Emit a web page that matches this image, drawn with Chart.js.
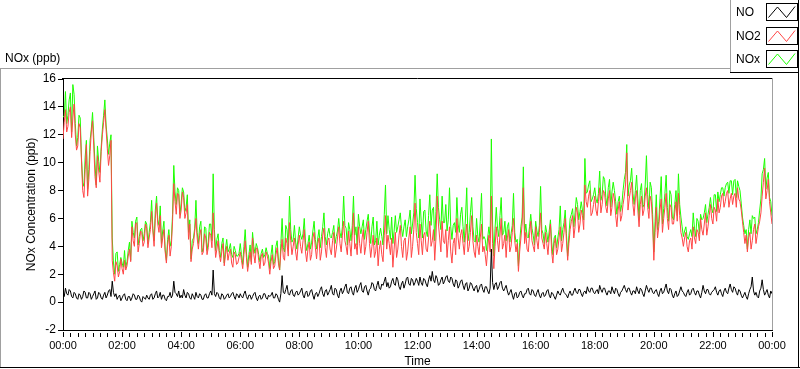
<!DOCTYPE html>
<html><head><meta charset="utf-8">
<script src="https://cdn.jsdelivr.net/npm/chart.js@4.4.1/dist/chart.umd.min.js"></script>
<style>html,body{margin:0;padding:0;background:#fff;overflow:hidden}canvas{display:block}</style>
</head><body>
<canvas id="c" width="800" height="369"></canvas>
<script>
// ---- data (2.5-minute samples, 00:00 .. 24:00), one row per hour ----
const SAMPLE_MIN = 2.5;
const seriesNames = ['NO', 'NO2', 'NOx'];
const plotLabel = 'NOx (ppb)';
const xTitle = 'Time';
const yTitle = 'NOx Concentration (ppb)';
const xTickLabels = ['00:00','02:00','04:00','06:00','08:00','10:00','12:00','14:00','16:00','18:00','20:00','22:00','00:00'];
const yTicks = [-2,0,2,4,6,8,10,12,14,16];

const NO = [
0.7,0.4,1.0,0.6,0.5,0.9,0.8,0.4,0.3,0.7,0.6,0.3,0.2,0.6,0.5,0.2,0.4,0.8,0.7,0.3,0.3,0.7,0.6,0.2,
0.4,0.6,0.8,0.2,0.3,0.7,0.6,0.3,0.2,0.5,0.7,0.3,0.5,0.8,0.9,0.4,1.5,0.7,0.4,0.6,0.2,0.4,0.5,0.1,
0.3,0.5,0.6,0.2,0.1,0.4,0.4,0.1,0.3,0.6,0.5,0.2,0.2,0.5,0.4,0.1,0.0,0.4,0.3,0.2,0.5,0.3,0.2,0.5,
0.6,0.2,0.3,0.6,0.8,0.3,0.4,0.7,0.2,0.5,0.5,0.2,0.1,0.4,0.4,0.7,0.3,0.5,1.5,0.7,0.6,0.4,0.8,0.3,
0.5,0.3,0.9,0.5,0.3,0.7,0.6,0.3,0.2,0.6,0.4,0.2,0.7,0.4,0.3,0.6,0.5,0.2,0.2,0.5,0.6,0.3,0.3,0.6,
0.8,0.5,2.3,0.6,0.4,0.7,0.6,0.3,0.2,0.6,0.5,0.2,0.3,0.5,0.6,0.3,0.4,0.6,0.7,0.4,0.2,0.6,0.5,0.3,
0.6,0.4,0.3,0.6,0.8,0.4,0.2,0.5,0.5,0.2,0.4,0.6,0.7,0.3,0.1,0.4,0.5,0.2,0.3,0.6,0.6,0.3,0.2,0.5,
0.4,0.5,0.7,0.3,0.3,0.6,0.5,0.2,0.0,0.6,1.9,0.7,0.6,0.9,1.2,0.6,0.5,0.8,0.9,0.5,0.4,0.7,0.8,0.5,
0.6,0.8,1.0,0.5,0.3,0.7,0.8,0.4,0.5,0.8,0.9,0.5,0.2,0.6,0.7,0.4,0.6,0.9,1.1,0.6,0.4,0.8,0.9,0.5,
0.7,0.9,1.2,0.6,0.5,1.0,0.9,0.5,0.3,0.8,1.0,0.6,0.8,1.1,1.3,0.7,0.6,1.0,1.1,0.7,0.5,1.0,1.2,0.7,
0.9,1.2,1.4,0.8,0.7,1.1,1.2,0.8,0.5,0.9,1.0,1.4,1.3,0.9,0.8,1.2,1.5,1.0,0.9,1.3,1.2,1.5,1.8,1.1,
1.4,1.0,1.1,1.5,1.7,1.3,1.2,1.8,1.6,1.1,0.9,1.3,1.5,1.0,1.3,1.7,1.8,1.3,1.2,1.7,1.6,1.2,1.4,1.7,
1.5,1.2,1.8,1.4,1.2,1.7,1.6,1.3,1.1,1.6,1.9,1.5,2.2,1.6,1.4,1.9,1.7,1.2,1.3,1.6,1.8,1.3,1.5,1.8,
1.9,1.5,1.4,1.8,1.7,1.3,1.1,1.6,1.5,1.0,1.2,1.5,1.6,1.2,0.9,1.3,1.4,0.8,1.0,1.4,1.3,1.0,0.8,1.1,
1.2,0.7,0.9,1.2,1.3,0.9,0.7,1.1,1.1,0.8,0.6,1.0,3.8,1.4,0.9,1.3,1.4,0.9,1.1,1.4,1.5,1.0,0.8,1.0,
1.2,0.8,0.5,0.7,0.9,0.5,0.2,0.6,0.7,0.3,0.4,0.7,0.8,0.5,0.3,0.6,0.6,0.9,1.0,0.6,0.5,0.9,0.8,0.5,
0.4,0.7,0.9,0.5,0.3,0.6,0.7,0.4,0.5,0.8,0.9,0.5,0.3,0.7,0.6,0.4,0.2,0.5,0.8,0.6,0.5,0.8,1.0,0.7,
0.6,0.5,0.3,0.6,0.8,0.5,0.5,0.8,1.0,0.7,0.6,0.9,0.9,0.6,0.4,0.7,0.8,0.6,1.1,0.8,0.7,1.0,1.0,0.7,
0.6,0.8,0.9,0.6,1.2,0.9,0.7,1.0,1.0,0.7,0.5,0.8,0.8,0.6,1.1,0.8,0.6,1.0,0.9,0.6,0.4,0.7,0.8,1.0,
1.2,0.9,0.7,1.0,1.0,0.7,0.5,0.8,0.8,0.6,1.1,0.8,0.6,1.0,0.9,0.6,0.4,0.8,1.2,0.9,0.7,1.0,1.0,0.7,
0.6,0.8,0.9,0.6,0.4,0.8,1.0,0.6,0.7,1.0,1.3,0.8,0.6,1.0,0.9,0.5,0.3,0.6,0.8,0.4,0.5,0.8,1.1,0.8,
0.7,0.5,0.4,0.7,0.9,0.5,0.6,0.9,1.0,0.7,0.5,0.8,0.8,0.5,0.3,0.7,1.2,0.8,0.6,0.9,0.9,0.6,0.5,0.7,
0.8,0.9,1.1,0.7,0.5,0.8,0.9,0.6,0.4,0.8,1.0,0.7,0.6,1.0,1.3,0.9,0.7,1.1,1.0,0.7,0.5,0.9,0.8,0.5,
0.3,0.5,0.7,0.4,0.2,0.6,0.9,1.1,1.8,0.8,0.5,0.7,0.4,0.3,0.8,1.0,1.6,0.9,0.5,0.7,0.9,0.5,0.3,0.8,0.6
];

const NO2 = [
11.7,12.9,13.8,12.2,12.6,13.6,14.0,11.8,13.2,14.2,12.0,10.9,11.2,12.8,12.5,10.2,8.0,7.5,9.5,11.3,7.6,8.8,10.8,12.2,
13.0,11.2,9.0,8.2,10.5,9.4,8.6,10.8,12.0,12.9,13.8,12.4,11.0,9.8,10.5,11.6,3.0,2.1,1.5,2.9,2.6,1.8,2.2,3.1,
2.4,2.0,3.0,2.3,2.6,3.3,3.8,2.9,5.4,4.4,4.0,5.6,5.7,3.6,4.2,5.1,5.0,4.0,4.3,5.6,5.3,3.9,4.6,5.2,
6.5,5.1,4.0,6.0,7.1,5.6,5.0,6.2,3.9,4.6,5.2,3.6,2.8,4.1,4.8,3.3,4.0,5.8,8.5,7.2,6.3,7.8,7.7,6.0,
6.6,7.9,7.5,6.0,6.4,7.0,4.5,5.6,2.9,3.8,4.2,5.1,6.0,4.6,3.8,4.8,5.2,3.4,3.6,4.9,4.6,3.4,3.9,5.0,
4.8,3.9,6.4,4.6,3.2,3.8,4.4,3.4,2.9,3.6,4.2,2.6,3.4,4.0,3.0,3.5,3.8,2.8,2.5,3.6,3.4,2.7,2.8,3.2,
3.6,3.0,2.4,3.4,4.4,3.2,2.2,2.9,3.6,2.7,4.6,3.4,2.8,3.9,3.8,3.0,2.4,3.3,3.5,2.6,2.8,3.6,3.3,2.8,
2.0,2.9,3.4,2.4,2.6,3.4,3.9,2.8,2.3,3.6,4.5,3.2,3.0,4.6,4.2,3.3,5.7,4.4,3.4,4.0,4.6,3.6,3.0,4.1,
4.8,4.0,3.5,4.4,5.2,3.6,2.9,3.8,4.3,3.0,3.4,4.6,5.0,3.9,3.1,4.2,4.6,3.0,3.6,4.8,5.3,3.9,3.2,4.4,
4.6,3.8,3.4,4.4,5.0,3.2,3.8,4.6,5.4,4.2,3.6,4.8,5.8,4.4,4.0,3.4,5.1,4.2,3.3,4.8,6.4,3.8,4.2,3.4,
5.4,4.2,3.5,4.6,5.2,3.4,4.0,5.0,5.8,4.2,3.2,4.0,4.8,3.2,3.6,4.6,2.6,3.8,4.4,3.4,2.9,4.8,6.2,3.8,
4.8,4.2,3.4,4.6,2.5,3.8,5.0,3.2,3.8,4.8,5.5,4.0,3.2,4.4,4.6,3.0,3.6,4.6,5.4,3.2,4.0,5.2,7.1,5.0,
4.2,3.4,5.6,4.4,3.4,4.8,5.0,3.8,3.6,4.6,5.8,4.0,4.4,5.2,3.0,4.6,7.6,5.6,4.6,3.6,5.8,4.4,4.2,5.2,
3.2,4.4,5.4,3.6,2.8,4.2,4.6,3.4,6.0,4.6,3.8,4.8,5.2,4.2,3.4,4.8,5.6,3.6,4.0,5.0,6.2,4.4,3.6,3.2,
4.8,4.0,3.4,4.6,5.6,3.6,4.0,3.4,2.6,3.8,4.8,3.6,7.6,4.2,2.4,4.0,5.4,4.4,3.6,4.8,6.0,3.8,4.2,4.8,
3.2,4.6,5.2,3.6,4.0,5.0,6.0,4.4,3.6,4.2,2.2,3.6,4.6,5.6,8.2,4.2,5.0,3.8,3.6,4.8,5.8,4.4,4.0,3.6,
5.4,4.4,3.8,5.0,6.4,4.6,4.2,3.8,5.0,4.2,3.4,4.6,5.6,3.6,2.8,4.2,4.6,3.4,3.8,4.6,5.4,3.6,4.2,5.0,
6.0,4.4,3.0,4.2,5.2,5.8,6.2,4.6,5.4,6.8,6.4,5.0,5.6,6.6,6.2,5.2,8.4,7.2,6.8,7.6,8.0,6.2,6.4,7.0,
7.6,6.6,6.2,7.2,8.2,6.4,7.0,8.0,7.8,6.8,6.4,7.4,8.0,6.2,6.8,7.8,7.4,6.2,5.4,6.6,7.2,5.8,6.2,7.0,
7.6,8.4,10.7,6.6,7.4,8.0,8.6,7.0,6.2,7.4,8.0,6.6,5.4,7.0,7.6,6.2,6.6,7.6,8.2,6.8,6.0,7.6,7.2,5.6,
3.0,5.0,6.8,4.6,5.4,6.6,7.4,5.0,6.0,6.8,7.8,6.0,5.2,7.0,6.8,5.6,5.6,6.4,7.2,5.8,7.8,6.2,5.0,4.6,
4.0,4.6,5.0,4.0,3.6,4.4,4.6,3.8,5.4,4.6,4.2,5.2,5.0,4.4,6.0,5.2,4.8,5.6,6.4,4.8,5.4,6.2,7.0,6.0,
5.6,6.8,6.6,5.8,7.4,6.4,6.8,7.6,7.8,6.8,7.2,7.8,8.0,6.8,7.4,7.8,7.0,7.6,7.8,6.8,8.2,7.4,7.2,6.6,
5.8,5.0,4.2,4.8,3.6,4.6,5.0,3.8,4.4,5.2,5.6,4.2,4.8,5.4,5.8,6.4,7.6,8.6,9.6,7.4,8.0,8.8,7.2,6.4,5.6
];

const NOx = [
13.3,13.3,15.1,12.8,13.4,14.5,15.0,12.2,15.6,14.9,12.8,11.2,11.8,13.4,13.2,10.4,8.6,8.3,10.4,11.6,8.1,9.5,11.6,12.4,
13.6,11.8,9.9,8.4,11.2,10.1,9.3,11.1,12.4,13.4,14.5,12.7,11.7,10.6,11.4,12.0,4.6,2.8,2.0,3.5,3.6,2.2,2.7,3.2,
2.8,2.5,3.7,2.5,2.9,3.7,4.3,3.0,5.8,5.0,4.6,5.8,6.1,4.1,4.7,5.2,5.3,4.4,4.9,5.8,5.6,4.2,5.0,5.7,
7.3,5.3,4.4,6.6,7.6,5.9,5.5,6.9,4.2,5.1,5.8,3.8,3.0,4.5,5.2,4.0,4.4,6.3,9.8,7.9,7.0,8.2,8.0,6.3,
7.1,8.2,7.9,6.5,6.8,7.7,5.0,5.9,3.1,4.4,4.6,5.3,7.3,5.0,4.2,5.4,5.8,3.6,3.9,5.4,5.3,3.7,4.3,5.6,
5.6,4.4,9.2,5.2,3.7,4.5,4.9,3.7,3.2,4.2,4.6,2.8,3.8,4.5,3.6,3.8,4.2,3.4,3.2,4.0,3.7,3.3,3.3,3.5,
4.2,3.4,2.7,4.0,5.2,3.6,2.5,3.4,4.1,2.9,5.0,4.0,3.5,4.2,3.9,3.4,2.9,3.5,3.8,3.2,3.4,3.9,3.5,3.3,
2.4,3.4,4.1,2.7,2.9,4.0,4.4,3.0,2.3,4.2,6.0,3.9,3.6,5.5,5.2,3.9,7.6,5.2,4.3,4.5,5.5,4.3,3.8,4.6,
5.4,4.8,4.5,4.9,6.0,4.3,3.7,4.2,4.8,3.8,4.3,5.1,5.8,4.5,3.8,4.6,5.2,3.9,4.7,5.4,6.4,4.7,4.1,4.9,
5.3,4.7,4.6,5.0,5.5,4.2,4.7,5.1,6.0,5.0,4.6,5.4,7.6,5.5,5.3,4.1,5.7,5.2,4.4,5.5,7.6,4.8,5.4,4.1,
6.3,5.4,4.9,5.4,5.9,4.5,5.2,5.8,6.3,5.1,4.2,5.4,6.1,4.1,4.4,5.8,4.1,4.8,5.3,4.7,4.1,6.3,8.4,4.9,
6.2,5.2,4.5,6.1,4.2,5.1,6.2,5.0,5.4,5.9,6.4,5.3,4.7,5.4,5.9,4.7,5.4,5.9,6.6,4.9,5.6,6.4,9.1,6.7,
5.7,4.6,7.4,5.8,4.6,6.5,6.6,5.1,4.7,6.2,7.7,5.5,6.6,6.8,4.4,6.5,9.2,6.8,5.9,5.2,7.6,5.7,5.7,7.0,
5.1,5.9,8.2,5.4,4.5,5.5,5.7,5.0,7.5,5.6,5.0,6.3,6.8,5.4,4.3,6.1,8.2,4.4,5.0,6.4,7.5,5.4,4.4,4.3,
6.0,4.7,4.3,5.8,7.8,4.5,4.7,4.5,3.7,4.6,5.4,4.6,11.7,5.6,3.3,5.3,6.8,5.3,4.7,6.2,7.5,4.8,5.0,5.8,
4.4,5.4,5.7,4.3,4.9,5.5,7.8,5.0,4.3,4.5,2.6,4.3,5.4,6.1,9.7,4.8,5.6,4.7,4.6,5.4,6.3,5.3,4.8,4.1,
5.8,5.1,4.7,5.5,8.3,5.2,4.9,4.2,5.5,5.0,4.3,5.1,5.9,4.3,3.4,4.6,4.8,3.9,4.6,5.2,6.9,4.4,5.2,5.7,
6.6,4.9,3.3,4.8,6.0,6.3,6.7,5.4,6.4,7.5,7.0,5.9,6.5,7.2,6.6,5.9,10.3,7.8,7.9,8.4,8.7,7.2,7.4,7.7,
8.2,7.4,7.1,7.8,9.4,7.3,7.7,9.0,8.8,7.5,6.9,8.2,8.8,6.8,7.9,8.6,8.0,7.2,6.3,7.2,7.6,6.5,7.0,8.0,
8.8,9.3,11.3,7.6,8.4,8.7,9.6,7.8,7.0,8.0,9.1,7.4,6.0,8.0,8.5,6.8,7.0,8.4,10.5,7.7,6.7,8.6,8.2,6.3,
3.6,5.8,7.7,5.2,5.8,7.4,9.0,5.6,6.7,7.8,9.1,6.8,5.8,8.0,7.7,6.1,5.9,7.0,8.0,6.2,9.2,7.0,6.1,5.4,
4.7,5.1,5.4,4.7,4.5,4.9,5.2,4.7,6.4,5.3,4.7,6.0,5.8,4.9,6.3,5.9,6.0,6.4,7.0,5.7,6.3,6.8,7.5,6.7,
6.4,7.7,7.7,6.5,7.9,7.2,7.7,8.2,8.2,7.6,8.2,8.5,8.6,7.8,8.7,8.7,7.7,8.7,8.8,7.5,8.7,8.3,8.0,7.1,
6.1,5.5,4.9,5.2,3.8,5.2,5.9,4.9,6.2,6.0,6.1,4.9,5.2,5.7,6.6,7.4,9.2,9.5,10.3,8.1,8.9,9.3,7.5,7.2,6.2
];

const seriesColors = ['#000000', '#ff4646', '#1cff00'];
const seriesValues = [NO, NO2, NOx];

// ---- chart ----
const FONT = "'Liberation Sans', Arial, sans-serif";
Chart.defaults.font.family = FONT;
Chart.defaults.font.size = 12;
Chart.defaults.color = '#000';

const toPoints = arr => arr.map((v, i) => ({ x: i * SAMPLE_MIN, y: v }));

const framePlugin = {
  id: 'labviewFrame',
  beforeDraw(chart) {
    const c = chart.ctx;
    c.save(); c.fillStyle = '#fff'; c.fillRect(0, 0, chart.width, chart.height); c.restore();
  },
  afterDraw(chart) {
    const c = chart.ctx, a = chart.chartArea, xs = chart.scales.x;
    c.save();
    c.lineWidth = 1;
    const line = (x1, y1, x2, y2, col) => { c.strokeStyle = col; c.beginPath(); c.moveTo(x1, y1); c.lineTo(x2, y2); c.stroke(); };
    // outer frame
    line(0, 68.5, 730, 68.5, '#a0a0a0');
    line(0.5, 68, 0.5, 368, '#a0a0a0');
    line(0, 367.5, 800, 367.5, '#000');
    line(798.5, 0, 798.5, 368, '#000');
    // legend box
    line(730.5, 0, 730.5, 73, '#a0a0a0');
    line(730, 72.5, 799, 72.5, '#000');
    // plot area border
    line(a.left - 1, a.top - 0.5, a.right + 1, a.top - 0.5, '#000');
    line(a.right + 0.5, a.top - 1, a.right + 0.5, a.bottom, '#a0a0a0');
    // x ticks: minor every 15 min, major at labels
    for (let m = 0; m <= xs.max; m += 15) {
      const px = Math.round(xs.getPixelForValue(m)) + 0.5;
      const major = m % 120 === 0;
      line(px, a.bottom + (major ? 2 : 3), px, a.bottom + 7, '#000');
    }
    // plot label
    c.fillStyle = '#000';
    c.font = '12px ' + FONT;
    c.textBaseline = 'middle';
    c.textAlign = 'left';
    c.fillText(plotLabel, 5, 59);
    // legend
    chart.data.datasets.forEach((ds, i) => {
      const by = 3 + Math.round(i * 23.5);
      const bx = 766;
      c.fillStyle = '#000';
      c.fillText(ds.label, 736, by + 10);
      c.fillStyle = '#fff';
      c.fillRect(bx, by, 31, 17);
      c.strokeStyle = '#000';
      c.strokeRect(bx + 0.5, by + 0.5, 31, 17);
      c.strokeStyle = ds.borderColor;
      c.beginPath();
      c.moveTo(bx + 2.5, by + 14.5); c.lineTo(bx + 11.5, by + 4);
      c.lineTo(bx + 20.5, by + 14.5); c.lineTo(bx + 29, by + 3.5);
      c.stroke();
    });
    c.restore();
  }
};

new Chart(document.getElementById('c'), {
  type: 'line',
  data: {
    datasets: seriesNames.map((name, i) => ({
      label: name,
      data: toPoints(seriesValues[i]),
      borderColor: seriesColors[i],
      backgroundColor: seriesColors[i],
      borderWidth: 1,
      pointRadius: 0,
      tension: 0,
      fill: false,
      order: i
    }))
  },
  options: {
    responsive: false,
    animation: false,
    events: [],
    layout: { padding: { top: 79, right: 28, left: 0, bottom: 0 } },
    plugins: { legend: { display: false }, tooltip: { enabled: false }, title: { display: false } },
    scales: {
      x: {
        type: 'linear',
        min: 0, max: 1440,
        afterFit(s) { s.height = 39; },
        afterBuildTicks(s) { s.ticks = xTickLabels.map((l, i) => ({ value: i * 120 })); },
        ticks: {
          autoSkip: false, maxRotation: 0, minRotation: 0, padding: 1,
          font: { size: 11 }, color: '#000',
          callback: (v, idx) => xTickLabels[idx]
        },
        grid: { display: false },
        border: { display: true, color: '#000', width: 1 },
        title: { display: true, text: xTitle, font: { size: 12 }, color: '#000', padding: { top: 0, bottom: 0 } }
      },
      y: {
        min: -2, max: 16,
        afterFit(s) { s.width = 63; },
        afterBuildTicks(s) { s.ticks = yTicks.map(v => ({ value: v })); },
        ticks: { padding: 2, font: { size: 12 }, color: '#000', callback: v => String(v) },
        grid: { display: true, drawOnChartArea: false, drawTicks: true, tickLength: 5, tickColor: '#000' },
        border: { display: true, color: '#000', width: 1 },
        title: { display: true, text: yTitle, font: { size: 12 }, color: '#000', padding: { top: 24, bottom: 0 } }
      }
    }
  },
  plugins: [framePlugin]
});
</script>
</body></html>
